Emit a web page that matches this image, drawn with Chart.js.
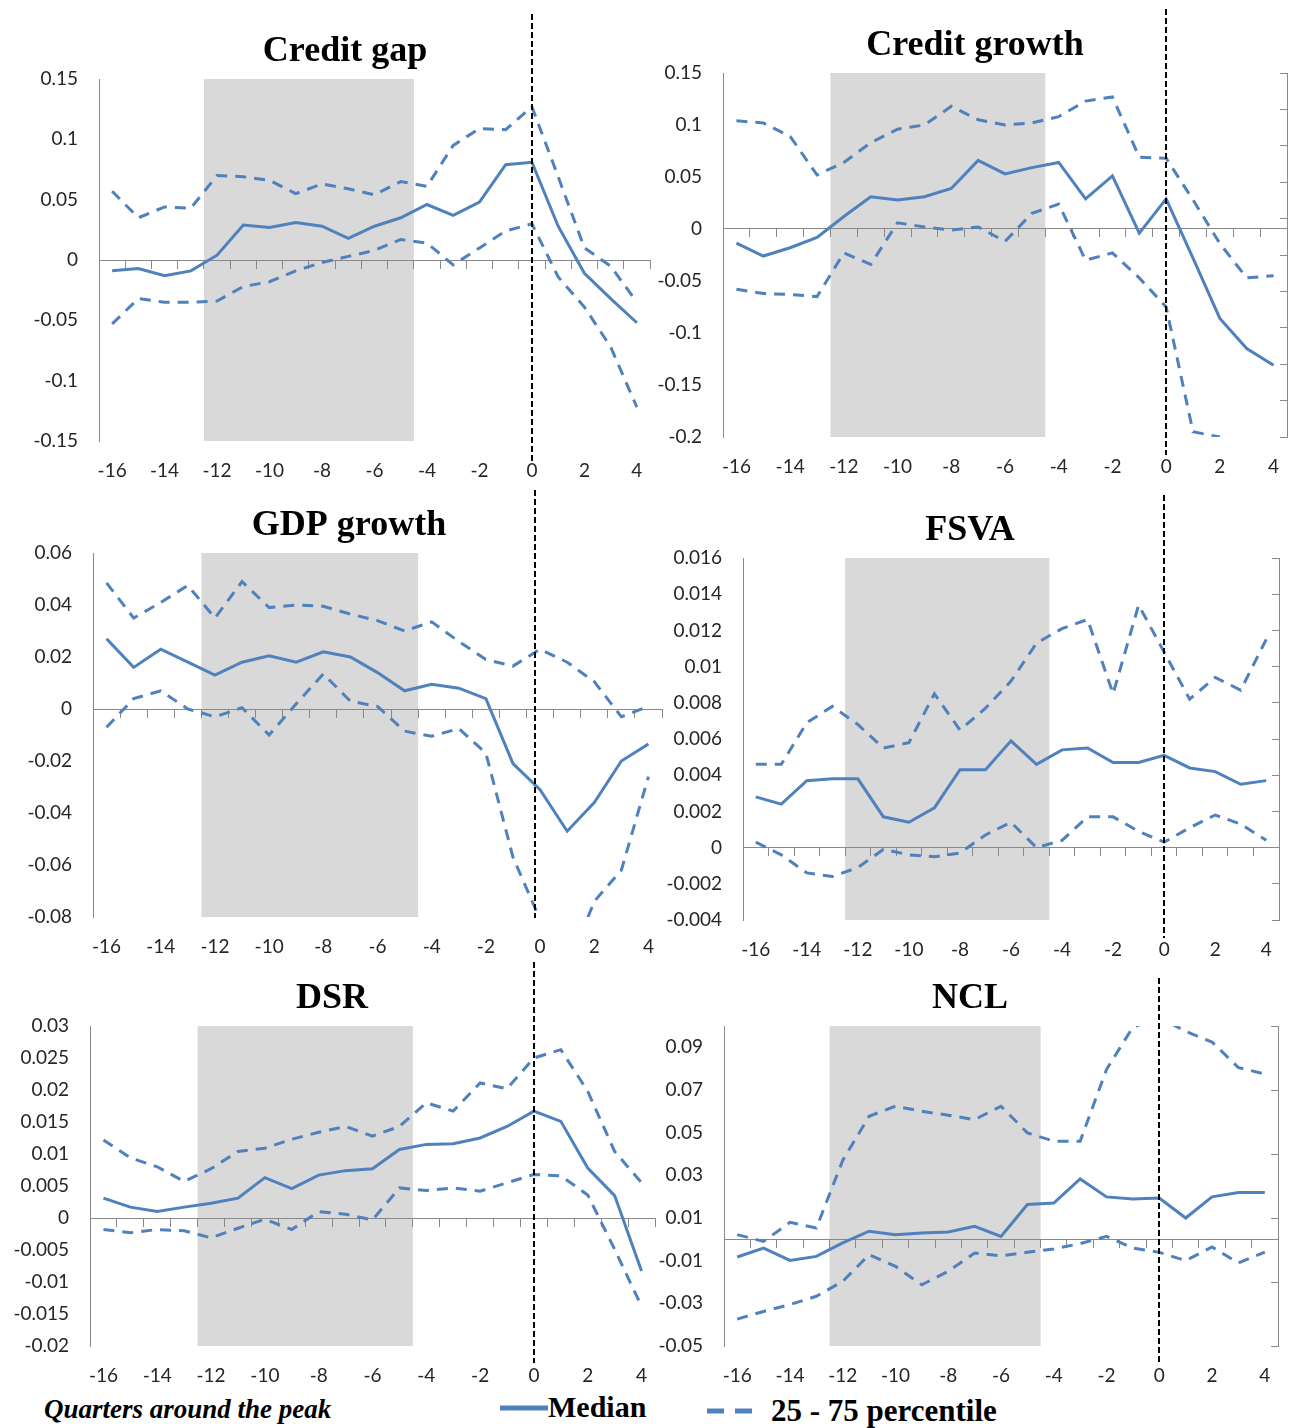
<!DOCTYPE html>
<html lang="en">
<head>
<meta charset="utf-8">
<title>Indicators around the peak</title>
<script src="https://cdn.jsdelivr.net/npm/chart.js"></script>
<style>
  body{margin:0;background:#fff;width:1294px;height:1428px;position:relative;overflow:hidden}
  canvas{position:absolute}
  .lg{position:absolute;font-family:"Liberation Serif",serif;font-weight:bold;color:#000;white-space:nowrap;line-height:1}
  svg{position:absolute}
</style>
</head>
<body>

<div class="lg" style="left:44px;top:1396px;font-size:27px;font-style:italic">Quarters around the peak</div>
<svg style="left:499px;top:1402px" width="50" height="12"><line x1="1" y1="6" x2="49" y2="6" stroke="#4f81bd" stroke-width="5"/></svg>
<div class="lg" style="left:548px;top:1392px;font-size:30px">Median</div>
<svg style="left:705px;top:1405px" width="52" height="12"><line x1="2" y1="6" x2="50" y2="6" stroke="#4f81bd" stroke-width="5" stroke-dasharray="17 11"/></svg>
<div class="lg" style="left:771px;top:1395px;font-size:31px">25 - 75 percentile</div>

<script>
const quarters = [-16,-15,-14,-13,-12,-11,-10,-9,-8,-7,-6,-5,-4,-3,-2,-1,0,1,2,3,4];
const xTicks = [-16,-14,-12,-10,-8,-6,-4,-2,0,2,4];

// Credit gap
const gapMed = [-0.009,-0.007,-0.013,-0.009,0.004,0.029,0.027,0.031,0.028,0.018,0.028,0.035,0.046,0.037,0.048,0.079,0.081,0.028,-0.011,-0.032,-0.052];
const gapHi  = [0.057,0.035,0.044,0.043,0.070,0.069,0.066,0.055,0.063,0.059,0.054,0.065,0.061,0.095,0.109,0.108,0.127,0.069,0.010,-0.005,-0.035];
const gapLo  = [-0.053,-0.032,-0.035,-0.035,-0.034,-0.022,-0.018,-0.009,-0.002,0.003,0.008,0.017,0.014,-0.004,0.010,0.024,0.030,-0.014,-0.039,-0.072,-0.122];
const gapTicks = [-0.15,-0.1,-0.05,0,0.05,0.1,0.15];

// Credit growth
const growthMed = [-0.0135,-0.026,-0.018,-0.008,0.012,0.031,0.028,0.031,0.039,0.066,0.053,0.059,0.064,0.029,0.051,-0.004,0.029,-0.028,-0.086,-0.115,-0.131];
const growthHi  = [0.104,0.102,0.089,0.052,0.064,0.083,0.096,0.100,0.118,0.105,0.100,0.102,0.108,0.123,0.127,0.069,0.068,0.028,-0.014,-0.047,-0.045];
const growthLo  = [-0.058,-0.062,-0.063,-0.065,-0.023,-0.034,0.006,0.002,-0.001,0.002,-0.012,0.015,0.024,-0.030,-0.023,-0.047,-0.075,-0.195,-0.200,null,null];
const growthTicks = [-0.2,-0.15,-0.1,-0.05,0,0.05,0.1,0.15];

// GDP growth
const gdpMed = [0.027,0.016,0.023,0.018,0.013,0.018,0.0205,0.018,0.022,0.020,0.014,0.007,0.0095,0.008,0.004,-0.021,-0.031,-0.047,-0.036,-0.020,-0.0135];
const gdpHi  = [0.0485,0.035,0.041,0.0475,0.035,0.049,0.039,0.040,0.0395,0.0365,0.034,0.030,0.0335,0.026,0.019,0.0165,0.023,0.018,0.0105,-0.003,0.001];
const gdpLo  = [-0.007,0.004,0.007,0.000,-0.003,0.0005,-0.010,0.002,0.0135,0.003,0.001,-0.0085,-0.0105,-0.0075,-0.017,-0.057,-0.081,-0.100,-0.074,-0.062,-0.026];
const gdpTicks = [-0.08,-0.06,-0.04,-0.02,0,0.02,0.04,0.06];

// FSVA
const fsvaMed = [0.0028,0.0024,0.0037,0.0038,0.0038,0.0017,0.0014,0.0022,0.0043,0.0043,0.0059,0.0046,0.0054,0.0055,0.0047,0.0047,0.0051,0.0044,0.0042,0.0035,0.0037];
const fsvaHi  = [0.0046,0.0046,0.0069,0.0078,0.0068,0.0055,0.0058,0.0085,0.0065,0.0077,0.0092,0.0113,0.0121,0.0126,0.0085,0.0134,0.0108,0.0082,0.0094,0.0087,0.0115];
const fsvaLo  = [0.0003,-0.0004,-0.0014,-0.0016,-0.0011,-0.0001,-0.0004,-0.0005,-0.0003,0.0007,0.0014,0.0000,0.0004,0.0017,0.0017,0.0009,0.0003,0.0011,0.0018,0.0013,0.0004];
const fsvaTicks = [-0.004,-0.002,0,0.002,0.004,0.006,0.008,0.01,0.012,0.014,0.016];

// DSR
const dsrMed = [0.0031,0.0017,0.0010,0.0017,0.0023,0.0031,0.0063,0.0046,0.0067,0.0074,0.0077,0.0107,0.0115,0.0116,0.0125,0.0143,0.0167,0.0151,0.0078,0.0035,-0.0083];
const dsrHi  = [0.0122,0.0094,0.0080,0.0057,0.0077,0.0104,0.0109,0.0123,0.0134,0.0143,0.0128,0.0143,0.0180,0.0167,0.0211,0.0202,0.0250,0.0263,0.0198,0.0104,0.0055];
const dsrLo  = [-0.0018,-0.0023,-0.0018,-0.0020,-0.0031,-0.0016,-0.0002,-0.0018,0.0010,0.0006,-0.0003,0.0047,0.0043,0.0047,0.0042,0.0055,0.0068,0.0066,0.0036,-0.0049,-0.0138];
const dsrTicks = [-0.02,-0.015,-0.01,-0.005,0,0.005,0.01,0.015,0.02,0.025,0.03];

// NCL
const nclMed = [-0.0083,-0.0041,-0.0099,-0.0080,-0.0017,0.0038,0.0022,0.0030,0.0034,0.0061,0.0014,0.0163,0.0170,0.0283,0.0199,0.0189,0.0194,0.0100,0.0199,0.0220,0.0220];
const nclHi  = [0.0022,-0.0010,0.0080,0.0053,0.0370,0.0577,0.0624,0.0600,0.0582,0.0561,0.0624,0.0499,0.0460,0.0460,0.0796,0.0995,0.1040,0.0975,0.0925,0.0805,0.0775];
const nclLo  = [-0.0374,-0.0338,-0.0306,-0.0267,-0.0197,-0.0072,-0.0127,-0.0213,-0.0150,-0.0064,-0.0077,-0.0061,-0.0045,-0.0020,0.0014,-0.0041,-0.0061,-0.0100,-0.0036,-0.0111,-0.0060];
const nclTicks = [-0.05,-0.03,-0.01,0.01,0.03,0.05,0.07,0.09];

const BLUE = '#4f81bd', AXIS = '#898989', TXT = '#262626';
const tickFont = {family: 'Lato', size: 19};

// grey window and dashed peak marker
const peakPlugin = {
  id: 'peak',
  beforeDraw(chart, args, o) {
    const {ctx, chartArea: a, scales: {x}} = chart;
    const x1 = x.getPixelForValue(o.from), x2 = x.getPixelForValue(o.to);
    ctx.save();
    ctx.fillStyle = '#d9d9d9';
    ctx.fillRect(x1, a.top, x2 - x1, a.bottom - a.top);
    ctx.restore();
  },
  afterDatasetsDraw(chart, args, o) {
    const {ctx, chartArea: a, scales: {x}} = chart;
    const px = Math.round(x.getPixelForValue(o.at));
    ctx.save();
    ctx.strokeStyle = '#000';
    ctx.lineWidth = 2;
    ctx.setLineDash([6, 3]);
    ctx.beginPath();
    ctx.moveTo(px, a.top - o.up);
    ctx.lineTo(px, a.bottom + o.down);
    ctx.stroke();
    ctx.restore();
  }
};

function pts(arr) {
  return quarters.map((q, i) => ({x: q, y: arr[i]}));
}

function makePanel(p) {
  const side = 12, padR = 3;
  // title is centred between the left edge of the tick labels and the plot's right edge
  const titleLeft = 2 * p.c - p.R;
  const left = titleLeft - side;
  const top = p.T - 70;
  const cv = document.createElement('canvas');
  cv.width = p.R + side + padR - left;
  cv.height = p.B + 45 - top;
  cv.style.left = left + 'px';
  cv.style.top = top + 'px';
  document.body.appendChild(cv);

  const yw = p.L - left;
  const scales = {
    x: {
      type: 'linear', min: -16.5, max: 4.5,
      afterBuildTicks: s => { s.ticks = xTicks.map(v => ({value: v})); },
      afterFit: s => { s.height = 45; },
      grid: {display: false, drawTicks: false},
      border: {display: false},
      ticks: {font: tickFont, color: TXT, padding: 18, maxRotation: 0, autoSkip: false, callback: v => String(v)}
    },
    x2: {
      type: 'linear', min: -16.5, max: 4.5, position: {y: 0},
      afterBuildTicks: s => { s.ticks = quarters.concat([4]).map((q, i) => ({value: i === 0 ? -16.5 : quarters[i - 1] + 0.5})); },
      grid: {drawOnChartArea: false, drawTicks: true, tickLength: 8, color: AXIS},
      border: {display: true, color: AXIS, width: 1},
      ticks: {display: false}
    },
    y: {
      min: p.yMin, max: p.yMax,
      afterBuildTicks: s => { s.ticks = p.yTicks.map(v => ({value: v})); },
      afterFit: s => { s.width = yw; },
      grid: {display: false, drawTicks: false},
      border: {display: true, color: AXIS, width: 1},
      ticks: {font: tickFont, color: TXT, padding: 21, callback: v => String(+v.toFixed(4))}
    },
    y2: {
      type: 'linear', position: 'right', min: 0, max: p.rightSteps || 1,
      ticks: {display: false, stepSize: 1},
      grid: {display: !!p.rightSteps, drawOnChartArea: false, drawTicks: true, tickLength: -7, color: AXIS},
      border: {display: !!p.rightSteps, color: AXIS, width: 1},
      afterFit: s => { s.width = side; }
    }
  };

  const line = (label, arr, dashed) => ({
    label, data: pts(arr), borderColor: BLUE, borderWidth: 3,
    borderDash: dashed ? [11, 8] : [], borderCapStyle: 'butt',
    pointRadius: 0, tension: 0, fill: false, spanGaps: false
  });

  new Chart(cv, {
    type: 'line',
    data: {datasets: [line('25 percentile', p.lo, true), line('75 percentile', p.hi, true), line('Median', p.med, false)]},
    options: {
      responsive: false, animation: false, devicePixelRatio: 1,
      layout: {padding: {top: 25, left: 0, right: padR, bottom: 0}},
      scales,
      plugins: {
        legend: {display: false},
        tooltip: {enabled: false},
        title: {display: true, text: p.title, color: '#000',
          font: {family: 'Liberation Serif', size: 36, weight: 'bold', lineHeight: 1},
          padding: {top: 0, bottom: 9}},
        peak: {from: -12.5, to: -4.5, at: p.at, up: p.up, down: p.down}
      }
    },
    plugins: [peakPlugin]
  });
}

makePanel({title: 'Credit gap', med: gapMed, hi: gapHi, lo: gapLo, yTicks: gapTicks, yMin: -0.15, yMax: 0.15,
  L: 99, R: 650, T: 79, B: 441, c: 345, at: 0, up: 65, down: 20});
makePanel({title: 'Credit growth', med: growthMed, hi: growthHi, lo: growthLo, yTicks: growthTicks, yMin: -0.2, yMax: 0.15,
  L: 723, R: 1287, T: 73, B: 437, c: 975, at: 0, up: 64, down: 18, rightSteps: 10});
makePanel({title: 'GDP growth', med: gdpMed, hi: gdpHi, lo: gdpLo, yTicks: gdpTicks, yMin: -0.08, yMax: 0.06,
  L: 93, R: 662, T: 553, B: 917, c: 349, at: -0.2, up: 63, down: 1});
makePanel({title: 'FSVA', med: fsvaMed, hi: fsvaHi, lo: fsvaLo, yTicks: fsvaTicks, yMin: -0.004, yMax: 0.016,
  L: 743, R: 1279, T: 558, B: 920, c: 970, at: 0, up: 63, down: 18, rightSteps: 10});
makePanel({title: 'DSR', med: dsrMed, hi: dsrHi, lo: dsrLo, yTicks: dsrTicks, yMin: -0.02, yMax: 0.03,
  L: 90, R: 655, T: 1026, B: 1346, c: 332, at: 0, up: 64, down: 17});
makePanel({title: 'NCL', med: nclMed, hi: nclHi, lo: nclLo, yTicks: nclTicks, yMin: -0.05, yMax: 0.1,
  L: 724, R: 1278, T: 1026, B: 1346, c: 970, at: 0, up: 48, down: 17, rightSteps: 5});
</script>
</body>
</html>
